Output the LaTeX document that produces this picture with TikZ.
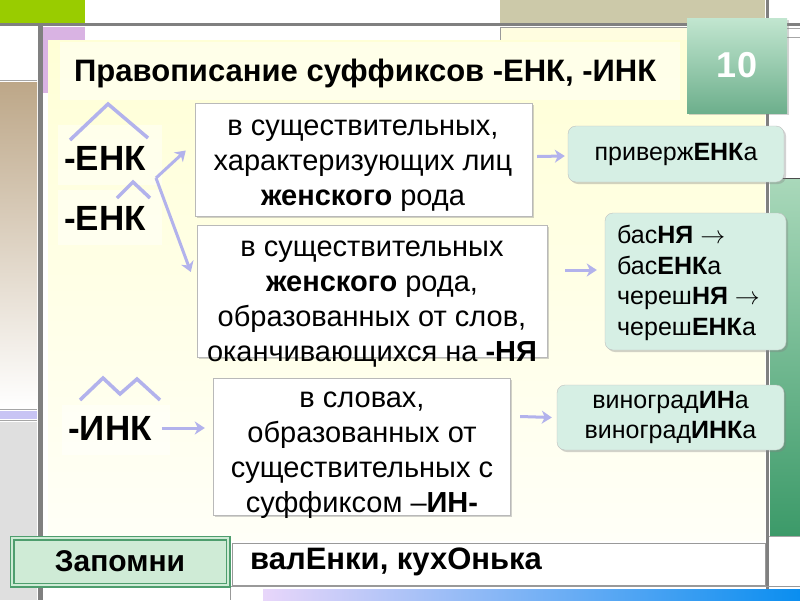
\documentclass[tikz,border=0pt]{standalone}
\usepackage{fontspec}
\setmainfont{Liberation Sans}
\usetikzlibrary{shadows,arrows.meta}

\definecolor{lav}{HTML}{B2B2EC}
\definecolor{mint}{HTML}{D6EFE4}
\definecolor{topgreen}{HTML}{99CC00}
\definecolor{khaki}{HTML}{CCC9A9}
\definecolor{brown}{HTML}{BDA788}
\definecolor{lilac}{HTML}{D9B3E3}
\definecolor{lavcell}{HTML}{C8C4F4}
\definecolor{zgreen}{HTML}{4E9E6E}
\definecolor{zlight}{HTML}{CFEBD6}

\begin{document}
\begin{tikzpicture}[x=1pt,y=-1pt,
  rulebox/.style={draw=gray!55, fill=white, inner sep=0pt,
    drop shadow={shadow xshift=2pt,shadow yshift=-2pt,opacity=.35}},
  ruletext/.style={align=center, inner sep=0pt, font=\fontsize{29}{35}\selectfont},
  exbox/.style={draw=gray!50, fill=mint, rounded corners=8pt, inner sep=0pt,
    drop shadow={shadow xshift=2pt,shadow yshift=-2pt,opacity=.35}},
  extext/.style={inner sep=0pt, font=\fontsize{25}{30.5}\selectfont},
  suffix/.style={inner sep=0pt, anchor=west, font=\fontsize{35}{38}\bfseries\selectfont},
  glow/.style={fill=white, opacity=.45},
  arr/.style={draw=lav, line width=3pt, -{Stealth[length=10pt,width=13pt,inset=3pt]}},
  roof/.style={draw=lav, line width=3.5pt, line join=miter},
]
\useasboundingbox (0,0) rectangle (800,600);
% background grid
\fill[white] (0,0) rectangle (800,600);
\fill[topgreen] (0,0) rectangle (85,23);
\fill[khaki] (500,0) rectangle (765,25);
\shade[top color=brown, bottom color=white] (0,82) rectangle (37,408);
\fill[lavcell] (0,411) rectangle (37,419);
\fill[gray!25] (0,422) rectangle (37,600);
\draw[gray!70] (0,80) -- (37,80) (0,409.5) -- (37,409.5) (0,420.5) -- (37,420.5);
\fill[lilac] (43,27) rectangle (85,93);
\draw[gray!80, fill=yellow!12] (500,27) rectangle (765,40);
\draw[gray!70] (769,28) -- (800,28) (769,37) -- (800,37);
\draw[gray!60!black] (769,178) -- (800,178);
\shade[top color={rgb,255:red,169;green,216;blue,186}, bottom color={rgb,255:red,60;green,154;blue,105}] (770,179) rectangle (800,535);
\draw[gray!70] (769,536) -- (800,536);
\draw[gray, line width=3pt] (0,24.5) -- (800,24.5);
\draw[gray, line width=5pt] (40,25) -- (40,600);
\draw[gray, line width=3pt] (767,0) -- (767,600);
% panel
\shade[top color={rgb,255:red,255;green,255;blue,214}, bottom color={rgb,255:red,255;green,255;blue,247}] (48,40) rectangle (765,540);
\fill[glow] (60,42) rectangle (680,100);
\fill[glow] (58,125) rectangle (162,185);
\fill[glow] (58,190) rectangle (162,245);
\fill[glow] (62,405) rectangle (170,455);

\node[rulebox, fill=none, draw=none, shading=axis, top color={rgb,255:red,194;green,230;blue,208},
  bottom color={rgb,255:red,109;green,175;blue,140}, minimum width=100pt, minimum height=95pt,
  font=\fontsize{36}{40}\bfseries\selectfont, text=white] (num) at (737,65.5) {10};
\node[inner sep=0pt, anchor=west, font=\fontsize{31}{34}\bfseries\selectfont] (title) at (74,73)
  {Правописание суффиксов -ЕНК, -ИНК};

% suffixes
\node[suffix] (suf1) at (64,158) {-ЕНК};
\node[suffix] (suf2) at (64,218) {-ЕНК};
\node[suffix] (suf3) at (68,428) {-ИНК};
\draw[roof] (70,140) -- (108,104) -- (148,138);
\draw[roof] (117,198) -- (133,182) -- (150,198);
\draw[roof] (80,400) -- (103,378) -- (120,394) -- (137,379) -- (160,400);

% rules
\node[rulebox, minimum width=337pt, minimum height=113pt] (rule1) at (363.5,159.5) {};
\node[ruletext] (rule1txt) at (363,166)
  {в существительных,\\характеризующих лиц\\\textbf{женского} рода};
\node[rulebox, minimum width=350pt, minimum height=132pt] (rule2) at (372,291) {};
\node[ruletext] (rule2txt) at (372,304)
  {в существительных\\\textbf{женского} рода,\\образованных от слов,\\оканчивающихся на \textbf{-НЯ}};
\node[rulebox, minimum width=297pt, minimum height=137pt] (rule3) at (361.5,446.5) {};
\node[ruletext] (rule3txt) at (362,455)
  {в словах,\\образованных от\\существительных с\\суффиксом –\textbf{ИН-}};

% examples
\node[exbox, extext, minimum width=216pt, minimum height=56pt] (ex1) at (676,154)
  {приверж\textbf{ЕНК}а};
\node[exbox, minimum width=181pt, minimum height=137pt] (ex2) at (695.5,281.5) {};
\node[extext, anchor=west, align=left] (ex2txt) at (617,283)
  {бас\textbf{НЯ} $\rightarrow$\\бас\textbf{ЕНК}а\\череш\textbf{НЯ} $\rightarrow$\\череш\textbf{ЕНК}а};
\node[exbox, extext, align=center, minimum width=227pt, minimum height=65pt] (ex3) at (670.5,417.5)
  {виноград\textbf{ИН}а\\виноград\textbf{ИНК}а};

% arrows
\coordinate (fork) at (156,178);
\draw[arr] (fork) -- ([xshift=-9pt,yshift=9pt]rule1.west);
\draw[arr] (fork) -- ([xshift=-6pt,yshift=19pt]rule2.west);
\draw[arr] ([xshift=5pt,yshift=3pt]rule1.east) -- ([xshift=-3pt,yshift=-2pt]ex1.west);
\draw[arr] ([xshift=18pt,yshift=21pt]rule2.east) -- ([xshift=-8pt,yshift=11.5pt]ex2.west);
\draw[arr] ([xshift=10pt]suf3.east) -- ([xshift=-8pt,yshift=18.5pt]rule3.west);
\draw[arr] ([xshift=10pt,yshift=30pt]rule3.east) -- ([xshift=-5pt]ex3.west);

% bottom row
\draw[gray!80] (230,586) -- (800,586) (230,586) -- (230,600);
\shade[left color={rgb,255:red,232;green,214;blue,250}, right color={rgb,255:red,10;green,142;blue,240}] (263,589) rectangle (800,600);
\node[draw=gray!80, fill=white, minimum width=533pt, minimum height=42pt, inner sep=0pt] (memo) at (498.5,564) {};
\node[inner sep=0pt, anchor=west, font=\fontsize{31}{34}\bfseries\selectfont] (memotxt) at (250,562)
  {валЕнки, кухОнька};
\node[draw=zgreen, line width=1.5pt, double=zlight, double distance=2pt, fill=zlight,
  minimum width=216pt, minimum height=47pt, inner sep=0pt,
  font=\fontsize{30}{34}\bfseries\selectfont] (remember) at (120,561.5) {Запомни};
\end{tikzpicture}
\end{document}
